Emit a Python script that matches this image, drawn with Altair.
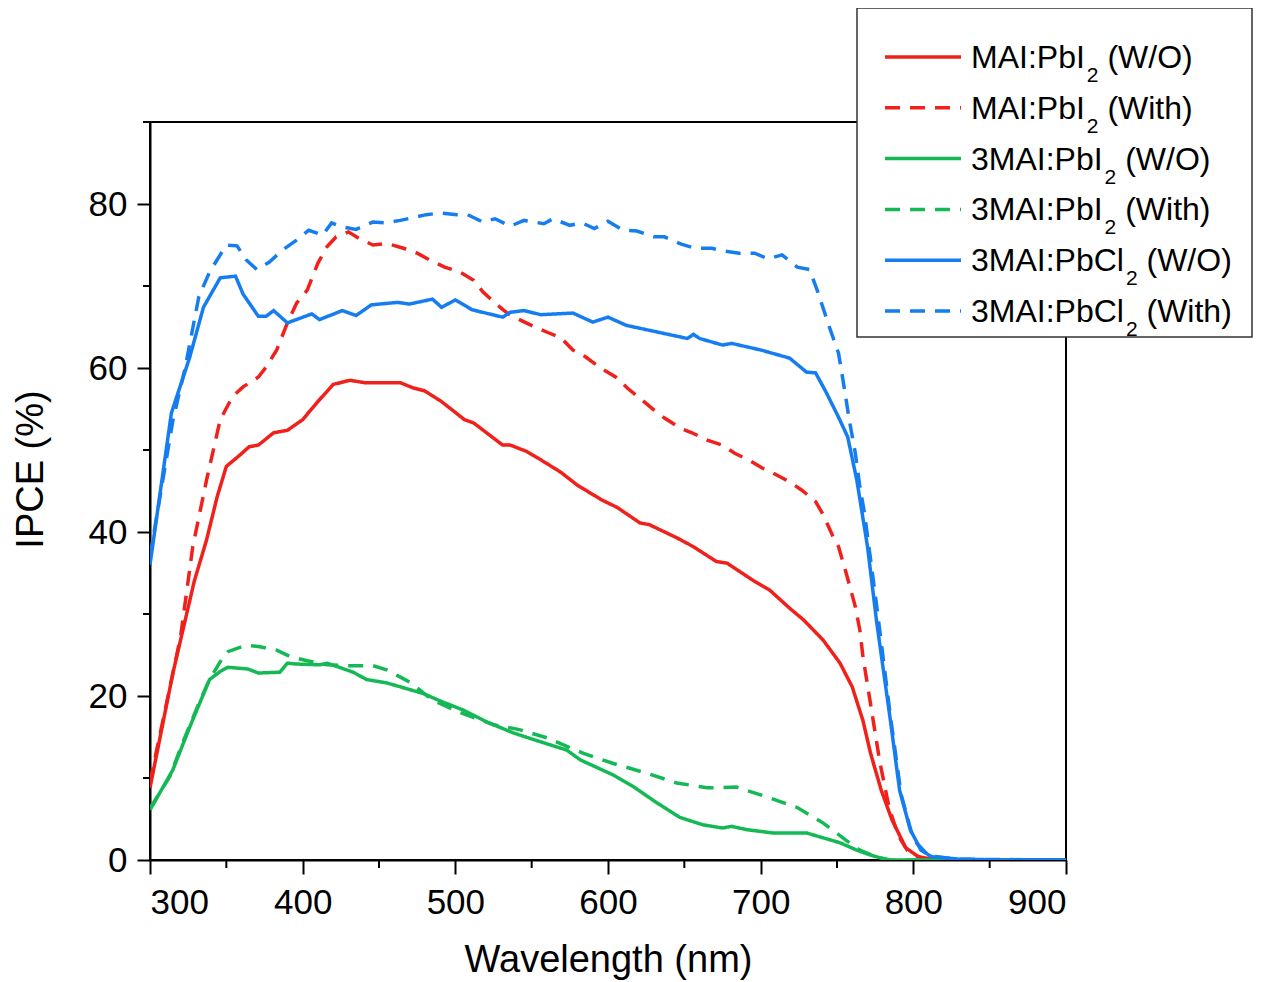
import altair as alt
import pandas as pd

# ---------------- data ----------------
series_names = ["MAI:PbI₂ (W/O)", "MAI:PbI₂ (With)", "3MAI:PbI₂ (W/O)",
                "3MAI:PbI₂ (With)", "3MAI:PbCl₂ (W/O)", "3MAI:PbCl₂ (With)"]

red_wo_wl = [300, 315, 329, 337, 344, 350, 359, 365, 371, 381, 390, 400, 409, 420, 431, 441, 451, 464, 472,
             480, 491, 506, 512, 531, 536, 547, 556, 569, 580, 596, 606, 621, 627, 645, 656, 671, 678, 695, 706,
             719, 728, 741, 752, 760, 767, 772, 779, 786, 795, 804, 815, 830, 860, 900]
red_wo_v = [8.8, 22.8, 34, 39, 44.3, 48, 49.4, 50.4, 50.6, 52.1, 52.4, 53.7, 55.7, 58, 58.5, 58.2, 58.2, 58.2,
            57.6, 57.2, 55.9, 53.7, 53.3, 50.6, 50.6, 49.8, 48.8, 47.3, 45.7, 43.9, 43, 41.1, 40.9, 39.3, 38.2,
            36.4, 36.2, 34.1, 32.9, 30.7, 29.3, 26.8, 24, 21.1, 17, 13, 8.5, 4.9, 1.5, 0.3, 0.1, 0, 0, 0]

red_w_wl = [300, 302, 320, 328, 337, 346, 354, 361, 371, 376, 383, 390, 396, 403, 410, 416, 422, 430, 437, 446,
            455, 466, 475, 483, 493, 503, 512, 518, 526, 534, 542, 552, 561, 569, 577, 585, 595, 605, 613, 621,
            630, 637, 647, 655, 665, 675, 683, 692, 701, 708, 719, 727, 736, 741, 747, 751, 756, 762, 765, 767,
            772, 778, 784, 790, 796, 802, 810, 830, 900]
red_w_v = [9.5, 11.3, 27.2, 38.2, 46.3, 53.7, 56.5, 57.7, 58.9, 60.1, 62.2, 65.5, 67.9, 69.5, 72.8, 74.8, 76,
           76.6, 75.8, 75, 75.2, 74.6, 74, 73.2, 72.3, 71.7, 70.7, 69.3, 67.9, 66.7, 65.9, 65, 64.3, 63.7, 62.2,
           61.4, 60, 58.9, 57.5, 56.3, 54.9, 53.9, 52.7, 52.1, 51.2, 50.6, 49.6, 48.8, 47.8, 47.2, 46.1, 45.1,
           43.7, 42.1, 39.6, 38.2, 35, 30.9, 28, 24.8, 19, 12, 6.5, 3, 1.2, 0.5, 0.1, 0, 0]

green_wo_wl = [300, 315, 326, 339, 346, 351, 364, 371, 385, 390, 396, 411, 416, 424, 433, 442, 455, 468, 479,
               490, 505, 521, 538, 551, 573, 582, 603, 617, 631, 647, 662, 675, 681, 691, 708, 730, 741, 752,
               763, 772, 783, 800, 900]
green_wo_v = [6.1, 11, 16.2, 22, 23, 23.5, 23.3, 22.8, 22.9, 24, 23.9, 23.8, 24, 23.5, 22.9, 22, 21.6, 20.9,
              20.3, 19.4, 18.3, 16.8, 15.5, 14.7, 13.4, 12.2, 10.4, 8.9, 7.1, 5.2, 4.3, 3.9, 4.1, 3.7, 3.3, 3.3,
              2.7, 2.1, 1.2, 0.6, 0, 0, 0]

green_w_wl = [300, 313, 322, 332, 339, 348, 351, 363, 372, 383, 392, 403, 416, 429, 446, 455, 464, 471, 485,
              503, 525, 542, 560, 584, 603, 625, 645, 665, 684, 704, 724, 741, 756, 765, 775, 785, 800, 900]
green_w_v = [6.3, 10.2, 14.6, 19.1, 22, 24.8, 25.4, 26.2, 26, 25.6, 24.8, 24.3, 23.8, 23.7, 23.7, 23.2, 22.3,
             21.6, 19.5, 18, 16.5, 15.9, 14.9, 13, 11.8, 10.6, 9.4, 8.8, 8.9, 7.7, 6.4, 4.5, 2.4, 1.2, 0.4, 0,
             0, 0]

blue_wo_wl = [300, 314, 326, 335, 346, 356, 361, 371, 376, 381, 390, 406, 411, 426, 435, 445, 462, 470, 485,
              491, 500, 511, 531, 536, 545, 556, 577, 590, 600, 612, 627, 652, 656, 660, 675, 681, 700, 719, 730,
              736, 743, 751, 757, 763, 770, 776, 785, 791, 798, 805, 812, 830, 860, 900]
blue_wo_v = [36, 54.5, 61.3, 67.4, 71, 71.2, 69, 66.3, 66.3, 67, 65.5, 66.6, 65.9, 67, 66.4, 67.7, 68, 67.8,
             68.4, 67.4, 68.3, 67.1, 66.2, 66.8, 67, 66.5, 66.7, 65.6, 66.2, 65.2, 64.6, 63.6, 64.1, 63.6, 62.8,
             63, 62.2, 61.2, 59.5, 59.4, 57, 54, 51.6, 46.3, 38.2, 29, 17, 8.5, 3.7, 1.2, 0.4, 0.1, 0, 0]

blue_w_wl = [300, 307, 315, 323, 332, 339, 344, 350, 357, 363, 370, 378, 387, 396, 404, 413, 419, 426, 435,
             446, 454, 464, 481, 490, 501, 508, 518, 526, 536, 545, 558, 564, 575, 583, 591, 600, 610, 619, 630,
             637, 648, 657, 668, 675, 686, 696, 705, 714, 724, 732, 737, 745, 751, 755, 758, 762, 765, 768, 776,
             785, 792, 800, 810, 830, 900]
blue_w_v = [37, 44.8, 53.6, 60, 68.7, 71.7, 73.2, 75, 74.9, 73.2, 72, 72.9, 74.4, 75.6, 76.8, 76.2, 77.7, 77.2,
            76.9, 77.8, 77.7, 78, 78.7, 78.9, 78.7, 78.7, 77.8, 78.2, 77.3, 78, 77.6, 78.2, 77.4, 77.7, 77, 77.9,
            76.8, 76.7, 76, 76, 75.1, 74.6, 74.6, 74.3, 74, 74, 73.3, 73.8, 72.3, 72, 69.5, 65, 61.8, 57.3, 53.7,
            49.6, 45.5, 42.3, 31, 17.5, 8, 2.5, 0.5, 0.1, 0]

x_ticks = [300, 400, 500, 600, 700, 800, 900]
x_minor = [350, 450, 550, 650, 750, 850]
y_ticks = [0, 20, 40, 60, 80]
y_minor = [10, 30, 50, 70, 90]

legend_prefix = ["MAI:PbI", "MAI:PbI", "3MAI:PbI", "3MAI:PbI", "3MAI:PbCl", "3MAI:PbCl"]
legend_suffix = ["(W/O)", "(With)", "(W/O)", "(With)", "(W/O)", "(With)"]

# ---------------- styles ----------------
RED, GREEN, BLUE = "#F0201A", "#14B955", "#167DF0"
colors = [RED, RED, GREEN, GREEN, BLUE, BLUE]
DASH = [15, 10]
dashes = [[1, 0], DASH, [1, 0], DASH, [1, 0], DASH]
FONT = "Liberation Sans"

W, H = 916, 738

all_series = [(red_wo_wl, red_wo_v), (red_w_wl, red_w_v), (green_wo_wl, green_wo_v),
              (green_w_wl, green_w_v), (blue_wo_wl, blue_wo_v), (blue_w_wl, blue_w_v)]
rows = []
for name, (wl, vv) in zip(series_names, all_series):
    for a, b in zip(wl, vv):
        rows.append({"series": name, "wl": a, "val": b})
df = pd.DataFrame(rows)

xscale = alt.Scale(domain=[300, 900], nice=False, zero=False)
yscale = alt.Scale(domain=[0, 90], nice=False)

lines = alt.Chart(df).mark_line(strokeWidth=3.5, clip=True).encode(
    x=alt.X("wl:Q", scale=xscale,
            axis=alt.Axis(values=x_ticks, title="Wavelength (nm)", format="d", grid=False,
                          tickSize=14, tickWidth=2, tickColor="black", domainColor="black",
                          domainWidth=2, labelPadding=11, labelFontSize=35, labelFont=FONT,
                          labelColor="black", titleFontSize=38, titleFont=FONT, titleColor="black",
                          titleFontWeight="normal", titleY=111, titleBaseline="alphabetic")),
    y=alt.Y("val:Q", scale=yscale,
            axis=alt.Axis(values=y_ticks, title="IPCE (%)", format="d", grid=False,
                          tickSize=13, tickWidth=2, tickColor="black", domainColor="black",
                          domainWidth=2, labelPadding=10, labelFontSize=35, labelFont=FONT,
                          labelColor="black", titleFontSize=38, titleFont=FONT, titleColor="black",
                          titleFontWeight="normal", titleX=-108, titleY=347, titleAlign="center",
                          titleBaseline="alphabetic")),
    color=alt.Color("series:N", scale=alt.Scale(domain=series_names, range=colors), legend=None),
    strokeDash=alt.StrokeDash("series:N", scale=alt.Scale(domain=series_names, range=dashes),
                              legend=None),
    detail="series:N",
    order="wl:Q",
)

minor_x = alt.Chart(pd.DataFrame({"wl": x_minor})).mark_rule(color="black", strokeWidth=2).encode(
    x=alt.X("wl:Q", scale=xscale), y=alt.value(H), y2=alt.value(H + 8))
minor_y = alt.Chart(pd.DataFrame({"val": y_minor})).mark_rule(color="black", strokeWidth=2).encode(
    y=alt.Y("val:Q", scale=yscale), x=alt.value(0), x2=alt.value(-7))

# ---------------- legend (drawn manually, to allow the subscripts) ----------------
one = alt.Data(values=[{"k": 0}])
LX0, LX1, LY0, LY1 = 707, 1102, -114, 215
layers = [lines, minor_x, minor_y]
layers.append(alt.Chart(one).mark_rect(fill="white", stroke="#333333", strokeWidth=1.5).encode(
    x=alt.value(LX0), x2=alt.value(LX1), y=alt.value(LY0), y2=alt.value(LY1)))

AW = {"M": .833, "A": .667, "I": .278, ":": .278, "P": .667, "b": .556, "C": .722, "l": .222,
      "3": .556, " ": .278, "2": .556}
FS, SFS = 32, 21
row_y0, row_dy = -65, 50.8
for i in range(6):
    ry = row_y0 + i * row_dy
    sd = dashes[i] if dashes[i] != [1, 0] else None
    rule_kw = dict(color=colors[i], strokeWidth=3.5)
    if sd:
        rule_kw["strokeDash"] = sd
    layers.append(alt.Chart(one).mark_rule(**rule_kw).encode(
        x=alt.value(735), x2=alt.value(811), y=alt.value(ry)))
    tx = 821
    w1 = sum(AW[c] for c in legend_prefix[i]) * FS
    base = ry + 11
    layers.append(alt.Chart(one).mark_text(text=legend_prefix[i], font=FONT, fontSize=FS, align="left",
                                           baseline="alphabetic", color="black").encode(
        x=alt.value(tx), y=alt.value(base)))
    layers.append(alt.Chart(one).mark_text(text="2", font=FONT, fontSize=SFS, align="left",
                                           baseline="alphabetic", color="black").encode(
        x=alt.value(tx + w1 + 2), y=alt.value(base + 14)))
    layers.append(alt.Chart(one).mark_text(text=legend_suffix[i], font=FONT, fontSize=FS, align="left",
                                           baseline="alphabetic", color="black").encode(
        x=alt.value(tx + w1 + 2 + AW["2"] * SFS + AW[" "] * FS), y=alt.value(base)))

chart = alt.layer(*layers).properties(
    width=W, height=H,
    autosize=alt.AutoSizeParams(type="none"),
    padding={"left": 142, "top": 114, "right": 190, "bottom": 124},
    background="white",
).configure_view(stroke="black", strokeWidth=2)

chart.save("out.html", embed_options={"renderer": "svg", "actions": False})
